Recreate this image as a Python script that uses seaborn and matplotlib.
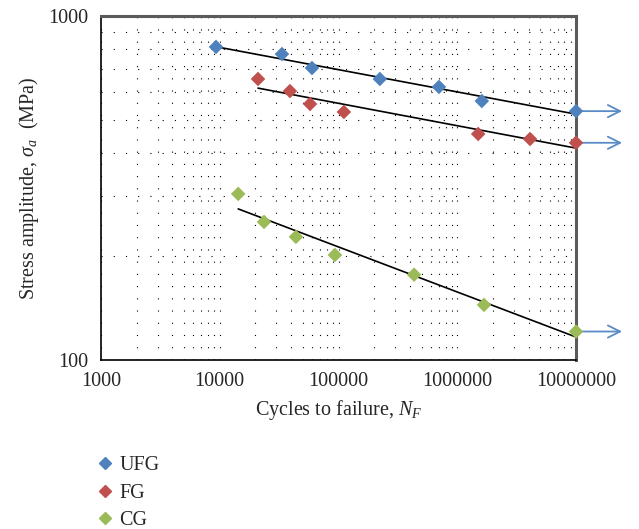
import numpy as np
import pandas as pd
import matplotlib
matplotlib.use("Agg")
import matplotlib.pyplot as plt
from matplotlib.ticker import LogLocator, NullFormatter, FixedLocator, FuncFormatter
import seaborn as sns

# Fatigue data: cycles to failure and stress amplitude (MPa) per grain size
ufg_cycles = [9300, 33400, 59800, 223000, 701000, 1610000, 10000000]
ufg_stress = [813, 775, 706, 656, 622, 566, 529]

fg_cycles = [21000, 39000, 57600, 111000, 1500000, 4100000, 10000000]
fg_stress = [656, 605, 555, 526, 454, 439, 428]

cg_cycles = [14300, 23600, 43800, 93300, 433000, 1680000, 10000000]
cg_stress = [304, 252, 228, 202, 177, 144.6, 121]

series_names = ["UFG", "FG", "CG"]
series_colors = ["#4F81BD", "#C0504D", "#9BBB59"]
x_ticks = [1000, 10000, 100000, 1000000, 10000000]
y_ticks = [100, 1000]

sns.set_style("white")
plt.rcParams["font.family"] = ["Liberation Serif", "DejaVu Serif"]
plt.rcParams["mathtext.fontset"] = "custom"
plt.rcParams["mathtext.rm"] = "Liberation Serif"
plt.rcParams["mathtext.it"] = "Liberation Serif:italic"

frames = []
for name, xs, ys in zip(series_names,
                        [ufg_cycles, fg_cycles, cg_cycles],
                        [ufg_stress, fg_stress, cg_stress]):
    frames.append(pd.DataFrame({"cycles": xs, "stress": ys, "group": name}))
df = pd.concat(frames, ignore_index=True)

fig = plt.figure(figsize=(6.39, 5.29), dpi=100)
ax = fig.add_axes([101 / 639, 1 - 360 / 529, 475 / 639, 344 / 529])
ax.set_xscale("log")
ax.set_yscale("log")
ax.set_xlim(1000, 10000000)
ax.set_ylim(100, 1000)

# dotted grid at every decade and sub-decade
ax.grid(which="both", linestyle=(0, (1, 10)), color="black", lw=0.8)
ax.set_axisbelow(True)

# power-law trend lines fitted in log space
for name in series_names:
    sub = df[df.group == name]
    lx, ly = np.log10(sub.cycles), np.log10(sub.stress)
    k, b = np.polyfit(lx, ly, 1)
    xx = np.array([lx.min(), lx.max()])
    ax.plot(10 ** xx, 10 ** (k * xx + b), color="black", lw=1.2, zorder=3)

sns.scatterplot(data=df, x="cycles", y="stress", hue="group",
                hue_order=series_names, palette=series_colors,
                marker="D", s=55, edgecolor="none", legend=False,
                ax=ax, zorder=4, clip_on=False)

# run-out arrows for the specimens that did not fail
for name, color in zip(series_names, series_colors):
    sub = df[df.group == name]
    last = sub.stress.iloc[-1]
    ax.annotate("", xy=(1.097, last), xytext=(1.0, last),
                xycoords=ax.get_yaxis_transform(),
                textcoords=ax.get_yaxis_transform(),
                annotation_clip=False,
                arrowprops=dict(arrowstyle="->", color="#5B8BC6", lw=1.3,
                                mutation_scale=22, shrinkA=0, shrinkB=0))

ax.xaxis.set_major_locator(FixedLocator(x_ticks))
ax.yaxis.set_major_locator(FixedLocator(y_ticks))
ax.xaxis.set_minor_locator(LogLocator(base=10, subs=np.arange(2, 10)))
ax.yaxis.set_minor_locator(LogLocator(base=10, subs=np.arange(2, 10)))
ax.xaxis.set_minor_formatter(NullFormatter())
ax.yaxis.set_minor_formatter(NullFormatter())
fmt = FuncFormatter(lambda v, p: f"{int(round(v))}")
ax.xaxis.set_major_formatter(fmt)
ax.yaxis.set_major_formatter(fmt)
ax.tick_params(axis="both", which="major", labelsize=14.5, length=5,
               width=1, direction="out", color="black", pad=4)
ax.tick_params(axis="x", which="minor", length=0)
ax.tick_params(axis="y", which="minor", length=3, direction="in", width=0.8)

for side in ["left", "bottom"]:
    ax.spines[side].set_color("black")
    ax.spines[side].set_linewidth(1.2)
for side in ["top", "right"]:
    ax.spines[side].set_color("#5a5a5a")
    ax.spines[side].set_linewidth(2.2)

ax.set_xlabel("Cycles to failure, $N_F$", fontsize=14.5, labelpad=5)
ax.set_ylabel(r"Stress amplitude, $\sigma_a$  (MPa)", fontsize=14.5, labelpad=5)

handles = [plt.Line2D([], [], marker="D", linestyle="none", color=c,
                      markersize=6) for c in series_colors]
fig.legend(handles, series_names, loc="upper left",
           bbox_to_anchor=(86 / 639, 1 - 446 / 529), frameon=False,
           fontsize=14.5, handletextpad=0.25, labelspacing=0.42,
           handlelength=0.9, borderpad=0)

fig.savefig("out.png", dpi=100)
